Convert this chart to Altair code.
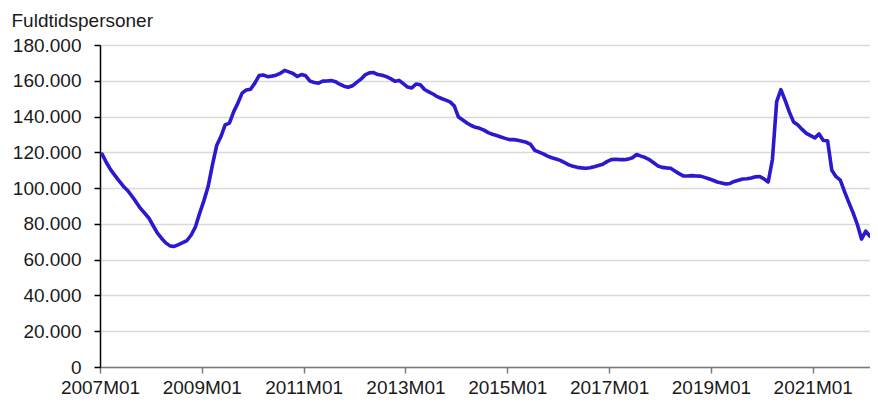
import altair as alt
import pandas as pd

# Monthly values (full-time persons), 2007M01 .. 2022M02
values = [
    # 2007
    119000, 114300, 110300, 107100, 104000, 101100, 98700, 95600, 92300, 88800, 86100, 83300,
    # 2008
    79100, 75000, 72000, 69400, 67700, 67400, 68400, 69500, 70700, 73800, 78400, 86000,
    # 2009
    93000, 101000, 113000, 123800, 128800, 135300, 136300, 142600, 147500, 153100, 154900, 155300,
    # 2010
    158700, 162900, 163200, 162300, 162600, 163100, 164200, 165800, 165000, 164100, 162400, 163500,
    # 2011
    162800, 159800, 159000, 158700, 159800, 159900, 160100, 159500, 158100, 157000, 156400, 157200,
    # 2012
    159100, 160900, 163300, 164400, 164600, 163500, 163100, 162300, 161200, 159700, 160200, 158400,
    # 2013
    156500, 156000, 158200, 157800, 155100, 153800, 152600, 151100, 150100, 149200, 148200, 146000,
    # 2014
    139700, 138100, 136400, 135000, 134000, 133400, 132400, 131000, 130100, 129400, 128600, 127800,
    # 2015
    127100, 127100, 126700, 126200, 125600, 124400, 121100, 120100, 119100, 117900, 117000, 116300,
    # 2016
    115500, 114300, 113000, 112200, 111600, 111300, 111100, 111400, 112000, 112600, 113300, 114800,
    # 2017
    115900, 116100, 115900, 115900, 116200, 117000, 118800, 117900, 117100, 115900, 114200, 112400,
    # 2018
    111600, 111300, 111100, 109600, 108100, 106800, 106800, 107000, 106800, 106700, 106000, 105200,
    # 2019
    104400, 103400, 102900, 102300, 102600, 103700, 104400, 105100, 105200, 105600, 106300, 106500,
    # 2020
    105200, 103400, 116000, 148400, 155000, 149000, 142500, 136900, 135300, 132800, 130600, 129300,
    # 2021
    128100, 130300, 126600, 126500, 110000, 106400, 104500, 98000, 92000, 86300, 79800, 71500,
    # 2022
    76000, 73000,
]

start_year = 2007
months = [f"{start_year + i // 12}M{i % 12 + 1:02d}" for i in range(len(values))]
tick_labels = [m for m in months if m.endswith("M01") and (int(m[:4]) - start_year) % 2 == 0]
y_ticks = [0, 20000, 40000, 60000, 80000, 100000, 120000, 140000, 160000, 180000]

df = pd.DataFrame({"month": months, "value": values})
df["pos"] = [i + 0.5 for i in range(len(months))]

tick_pos = [months.index(t) for t in tick_labels]
label_expr = " : ".join(f"datum.value == {p} ? '{t}'" for p, t in zip(tick_pos, tick_labels)) + " : ''"

FONT = "Liberation Sans"

chart = (
    alt.Chart(df)
    .mark_line(color="#2B19CF", strokeWidth=3.6, strokeJoin="round", strokeCap="round")
    .encode(
        x=alt.X(
            "pos:Q",
            scale=alt.Scale(domain=[0, len(months) - 0.5], nice=False, zero=False),
            axis=alt.Axis(
                values=tick_pos,
                labelExpr=label_expr,
                title=None,
                grid=False,
                domainColor="#7a7a7a",
                domainWidth=1.5,
                tickColor="#7a7a7a",
                tickWidth=1.5,
                tickSize=6,
                labelPadding=5,
                labelFontSize=19,
                labelFont=FONT,
                labelColor="#1a1a1a",
                labelFlush=False,
                labelOverlap=False,
            ),
        ),
        y=alt.Y(
            "value:Q",
            scale=alt.Scale(domain=[0, 180000], nice=False),
            axis=alt.Axis(
                values=y_ticks,
                labelExpr="replace(format(datum.value, ',d'), ',', '.')",
                title="Fuldtidspersoner",
                titleAngle=0,
                titleAlign="left",
                titleBaseline="alphabetic",
                titleX=-89,
                titleY=-19,
                titleFont=FONT,
                titleFontSize=19,
                titleFontWeight="normal",
                titleColor="#1a1a1a",
                grid=True,
                gridColor="#d9d9d9",
                gridWidth=1.6,
                domainColor="#000000",
                domainWidth=1.5,
                tickColor="#000000",
                tickWidth=1.5,
                tickSize=6,
                labelPadding=13,
                labelFontSize=19,
                labelFont=FONT,
                labelColor="#1a1a1a",
            ),
        ),
    )
    .properties(
        width=770,
        height=322,
        autosize=alt.AutoSizeParams(type="none"),
        padding={"left": 92, "top": 37, "right": 0, "bottom": 33},
    )
    .configure_view(stroke=None)
    .configure(background="white")
)

chart.save("out.html", embed_options={"renderer": "svg", "actions": False})
